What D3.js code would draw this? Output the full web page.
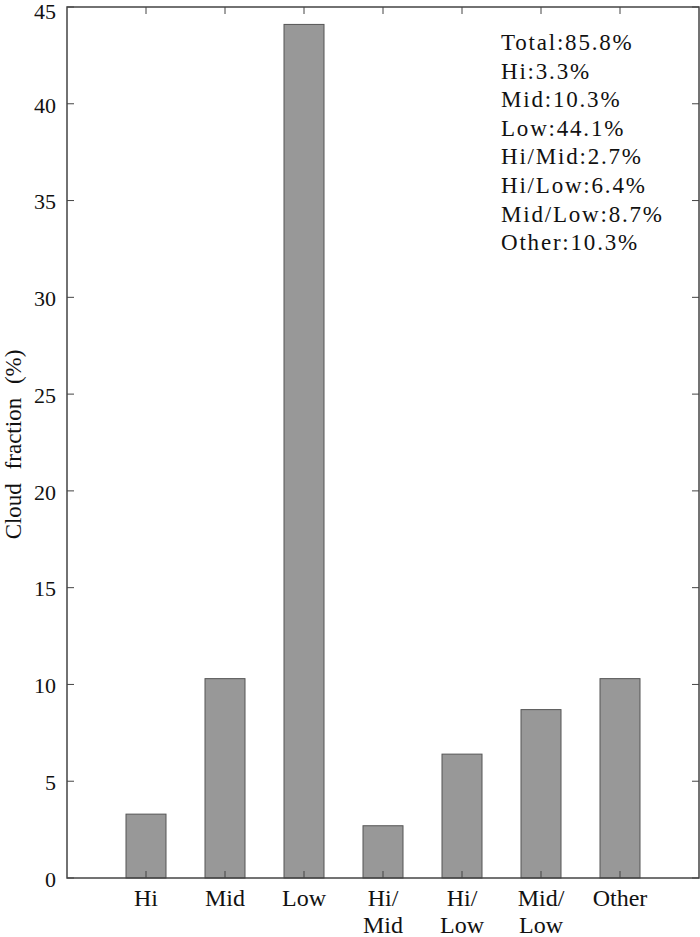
<!DOCTYPE html>
<html><head><meta charset="utf-8">
<script src="https://cdn.jsdelivr.net/npm/d3@7"></script>
<style>body{margin:0;background:#fff} svg text{font-family:"Liberation Serif","Times New Roman","DejaVu Serif",serif;}</style>
</head><body>
<svg id="c" width="700" height="937"></svg>
<script>
const categories = [["Hi"],["Mid"],["Low"],["Hi/","Mid"],["Hi/","Low"],["Mid/","Low"],["Other"]];
const values = [3.3, 10.3, 44.1, 2.7, 6.4, 8.7, 10.3];
const yTicks = [0,5,10,15,20,25,30,35,40,45];
const legendLines = ["Total:85.8%","Hi:3.3%","Mid:10.3%","Low:44.1%","Hi/Mid:2.7%","Hi/Low:6.4%","Mid/Low:8.7%","Other:10.3%"];

const svg = d3.select("#c");
const L=67, R=699, T=7, B=878;
const x = d3.scaleLinear().domain([0,8]).range([L,R]);
const y = d3.scaleLinear().domain([0,45]).range([B,T]);
const bw = 40;

svg.append("g").selectAll("rect").data(values).join("rect")
  .attr("x",(d,i)=>x(i+1)-bw/2).attr("width",bw)
  .attr("y",d=>y(d)).attr("height",d=>y(0)-y(d))
  .attr("fill","#989898").attr("stroke","#555").attr("stroke-width",1);

const ax = "#444";
svg.append("rect").attr("x",L).attr("y",T).attr("width",R-L).attr("height",B-T)
  .attr("fill","none").attr("stroke",ax).attr("stroke-width",1.5);

const tl = 7;
yTicks.forEach(t=>{
  svg.append("line").attr("x1",L).attr("x2",L+tl).attr("y1",y(t)).attr("y2",y(t)).attr("stroke",ax);
  svg.append("line").attr("x1",R).attr("x2",R-tl).attr("y1",y(t)).attr("y2",y(t)).attr("stroke",ax);
  svg.append("text").attr("x",L-11).attr("y",Math.max(y(t),10)).attr("dy","0.4em")
    .attr("text-anchor","end").attr("font-size",22).attr("fill","#111").text(t);
});
categories.forEach((c,i)=>{
  const xx = x(i+1);
  svg.append("line").attr("x1",xx).attr("x2",xx).attr("y1",T).attr("y2",T+tl).attr("stroke",ax);
  svg.append("line").attr("x1",xx).attr("x2",xx).attr("y1",B).attr("y2",B-tl).attr("stroke",ax);
  const tx = svg.append("text").attr("text-anchor","middle")
    .attr("font-size",24).attr("fill","#111");
  c.forEach((s,j)=>{
    tx.append("tspan").attr("x",xx).attr("y",906+j*27).text(s);
  });
});

svg.append("text").attr("transform",`translate(21,${(T+B)/2 + 2}) rotate(-90)`)
  .attr("text-anchor","middle").attr("font-size",23).attr("fill","#111")
  .attr("word-spacing","8px").text("Cloud fraction (%)");

legendLines.forEach((s,i)=>{
  svg.append("text").attr("x",501).attr("y",50+i*28.6)
    .attr("font-size",23).attr("fill","#111")
    .attr("letter-spacing","1.8px").text(s);
});
</script>
</body></html>
